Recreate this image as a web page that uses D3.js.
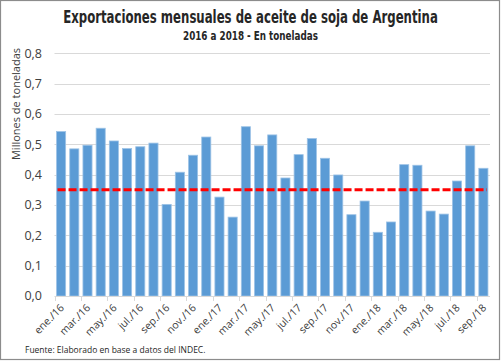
<!DOCTYPE html>
<html><head><meta charset="utf-8">
<script src="https://cdn.jsdelivr.net/npm/d3@7"></script>
<style>body{margin:0;background:#fff}svg{display:block}</style>
</head><body>
<svg id="c" width="501" height="364"></svg>
<script>
const months = ["ene.","feb.","mar.","abr.","may.","jun.","jul.","ago.","sep.","oct.","nov.","dic."];
const categories = [];
for (let y = 16; y <= 18; y++) for (let m = 0; m < 12; m++) { if (y === 18 && m > 8) break; categories.push(months[m] + "/" + y); }
const values = [0.542,0.485,0.497,0.553,0.511,0.486,0.492,0.504,0.302,0.408,0.464,0.524,
                0.326,0.260,0.558,0.495,0.531,0.389,0.466,0.519,0.454,0.399,0.268,0.313,
                0.210,0.244,0.433,0.431,0.280,0.270,0.379,0.495,0.421];
const average = 0.35;
const yTicks = [0,0.1,0.2,0.3,0.4,0.5,0.6,0.7,0.8];
const title = "Exportaciones mensuales de aceite de soja de Argentina";
const subtitle = "2016 a 2018 - En toneladas";
const yLabel = "Millones de toneladas";
const source = "Fuente: Elaborado en base a datos del INDEC.";

const svg = d3.select("#c");
svg.append("rect").attr("x",0.5).attr("y",0.5).attr("width",499).attr("height",359)
  .attr("fill","#fff").attr("stroke","#8c8c8c").attr("stroke-width",1.2);

const L = 54.5, R = 490, T = 53.3, B = 296;
const x = d3.scaleBand().domain(categories).range([L, R]).paddingInner(0.31).paddingOuter(0.155);
const y = d3.scaleLinear().domain([0,0.8]).range([B, T]);

svg.append("g").selectAll("line").data(yTicks.filter(d=>d>0)).join("line")
  .attr("x1",L).attr("x2",R).attr("y1",d=>Math.round(y(d))+0.5).attr("y2",d=>Math.round(y(d))+0.5)
  .attr("stroke","#d9d9d9").attr("stroke-width",1);

svg.append("g").selectAll("text").data(yTicks).join("text")
  .attr("x",42).attr("y",d=>y(d)).attr("dy","0.35em").attr("text-anchor","end")
  .attr("font-family","Open Sans, sans-serif").attr("font-size",12.5).attr("fill","#404040")
  .text(d=>d3.format(".1f")(d).replace(".",","));

svg.append("g").selectAll("rect").data(values).join("rect")
  .attr("x",(d,i)=>x(categories[i])).attr("width",x.bandwidth())
  .attr("y",d=>y(d)).attr("height",d=>B-y(d))
  .attr("fill","#5b9bd5").attr("stroke","#9dc3e6").attr("stroke-width",0.8);

const step = x.step();
svg.append("line").attr("x1",L).attr("x2",R).attr("y1",B+0.5).attr("y2",B+0.5).attr("stroke","#d9d9d9");
const tickIdx = d3.range(0, categories.length+1, 2);
svg.append("g").selectAll("line").data(tickIdx).join("line")
  .attr("x1",i=>Math.round(L+i*step)+0.5).attr("x2",i=>Math.round(L+i*step)+0.5)
  .attr("y1",B).attr("y2",B+5).attr("stroke","#d9d9d9");

svg.append("g").selectAll("text").data(categories.filter((d,i)=>i%2===0)).join("text")
  .attr("transform",d=>`translate(${x(d)+x.bandwidth()/2+1},${B+10}) rotate(-45)`)
  .attr("text-anchor","end").attr("dy","0.35em")
  .attr("font-family","Open Sans, sans-serif").attr("font-size",10.5).attr("fill","#404040")
  .text(d=>d);

svg.append("line")
  .attr("x1",x(categories[0])+1).attr("x2",x(categories[categories.length-1])+x.bandwidth()-1)
  .attr("y1",y(average)).attr("y2",y(average))
  .attr("stroke","#ff0000").attr("stroke-width",3).attr("stroke-dasharray","8,3");

svg.append("text").attr("transform","translate(20,104) rotate(-90)")
  .attr("text-anchor","middle").attr("font-family","Open Sans, sans-serif")
  .attr("font-size",11).attr("fill","#404040").text(yLabel);

function fitWidth(cx, cy, size, txt, target) {
  const g = svg.append("g");
  const t = g.append("text").attr("x",0).attr("y",0).attr("text-anchor","middle")
    .attr("font-family","Liberation Sans Narrow, DejaVu Sans Condensed, sans-serif").attr("font-weight","bold")
    .attr("font-size",size).attr("fill","#262626").text(txt);
  const w = t.node().getComputedTextLength();
  g.attr("transform",`translate(${cx},${cy}) scale(${target/w},1)`);
}
fitWidth(250.5, 23, 18, title, 375);
fitWidth(250.5, 40, 12.5, subtitle, 135);

svg.append("text").attr("x",25).attr("y",353).attr("font-family","Open Sans, sans-serif")
  .attr("font-size",8.5).attr("fill","#262626").text(source);
</script>
</body></html>
